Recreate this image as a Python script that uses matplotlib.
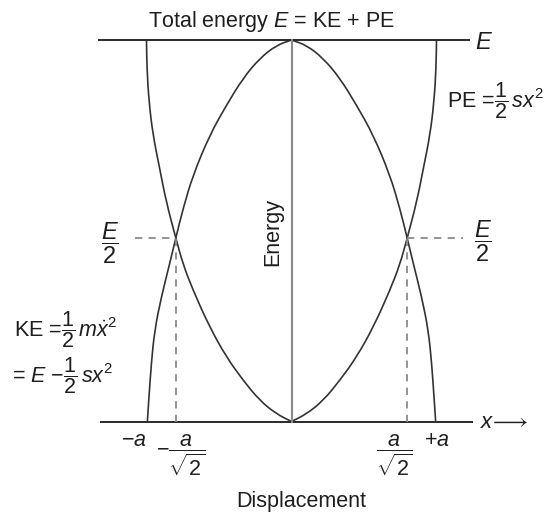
import matplotlib
matplotlib.use("Agg")
import matplotlib.pyplot as plt
from matplotlib.path import Path
from matplotlib.patches import PathPatch
import numpy as np

plt.rcParams["font.family"] = ["Liberation Sans", "DejaVu Sans"]
plt.rcParams["mathtext.fontset"] = "custom"
plt.rcParams["mathtext.rm"] = "Liberation Sans"
plt.rcParams["mathtext.it"] = "Liberation Sans:italic"
plt.rcParams["mathtext.bf"] = "Liberation Sans:bold"
plt.rcParams["mathtext.sf"] = "Liberation Sans"

# Displacement in units of the amplitude a, energy in units of the total energy E
pe_disp = [0.0, 0.105, 0.219, 0.334, 0.449, 0.564, 0.679, 0.748, 0.798,
           0.864, 0.909, 0.955, 0.983, 0.997, 1.0]
pe_energy = [0.0, 0.020, 0.055, 0.108, 0.169, 0.247, 0.344, 0.412, 0.481,
             0.576, 0.663, 0.750, 0.838, 0.926, 1.0]
ke_disp = [0.0, 0.105, 0.219, 0.334, 0.449, 0.564, 0.679, 0.747, 0.798,
           0.840, 0.898, 0.944, 0.967, 0.983, 0.994]
ke_energy = [1.0, 0.986, 0.952, 0.900, 0.829, 0.751, 0.646, 0.559, 0.481,
             0.414, 0.326, 0.239, 0.151, 0.064, 0.0]
total_energy = 1.0
half_point = (0.798, 0.481)   # where KE = PE = E/2

W, H = 555, 514
fig = plt.figure(figsize=(W / 100, H / 100), dpi=100)
ax = fig.add_axes([0, 0, 1, 1])
# axis frame: x = -a..a spans 146.5..436.5 px, energy 0..E spans 421.5..40 px
x0, ax_px = 291.5, 145.0
y0, ay_px = 421.5, 381.5
ax.set_xlim((0 - x0) / ax_px, (W - x0) / ax_px)
ax.set_ylim((y0 - H) / ay_px, y0 / ay_px)
ax.axis("off")

ink = "#2a2a2a"
curve_c = "#333333"
grey = "#8a8a8a"

# total-energy line and displacement axis
ax.plot([-1.334, 1.231], [total_energy, total_energy], color=ink, lw=1.4,
        solid_capstyle="butt")
ax.plot([-1.321, 1.252], [0, 0], color=ink, lw=1.4, solid_capstyle="butt")
# energy axis
ax.plot([0, 0], [0, total_energy], color=grey, lw=1.5)


def smooth_curve(xs, ys):
    """Quadratic-Bezier path through the midpoints of the given vertices."""
    pts = np.column_stack([xs, ys])
    verts = [pts[0], (pts[0] + pts[1]) / 2]
    codes = [Path.MOVETO, Path.LINETO]
    for i in range(1, len(pts) - 1):
        verts += [pts[i], (pts[i] + pts[i + 1]) / 2]
        codes += [Path.CURVE3, Path.CURVE3]
    verts.append(pts[-1])
    codes.append(Path.LINETO)
    return Path(verts, codes)


pe_d = np.array(pe_disp)
ke_d = np.array(ke_disp)
for sign in (1, -1):
    for d, e in ((pe_d, pe_energy), (ke_d, ke_energy)):
        ax.add_patch(PathPatch(smooth_curve(sign * d, e), fill=False,
                               edgecolor=curve_c, lw=1.2))

# dashed guides to the crossing points
hx, hy = half_point
dash = dict(color=grey, lw=1.3, ls=(0, (4, 3.5)))
ax.plot([-1.079, -hx], [hy, hy], **dash)
ax.plot([hx, 1.183], [hy, hy], **dash)
ax.plot([-hx, -hx], [0, hy], **dash)
ax.plot([hx, hx], [0, hy], **dash)

fs = 15.5
tc = "#1e1e1e"


def put(px, py, s, **kw):
    kw.setdefault("fontsize", fs)
    kw.setdefault("color", tc)
    kw.setdefault("ha", "center")
    kw.setdefault("va", "center")
    fig.text(px / W, 1 - py / H, s, **kw)


put(272, 21, r"Total energy $\mathit{E}$ = KE + PE")
put(484, 43, r"$\mathit{E}$", fontsize=17)
put(447, 101, r"PE =$\dfrac{1}{2}\,sx^2$", ha="left")
put(110, 243, r"$\dfrac{E}{2}$", fontsize=17)
put(483, 241, r"$\dfrac{E}{2}$", fontsize=17)
put(14, 330, r"KE =$\dfrac{1}{2}\,m\dot{x}^2$", ha="left")
put(12, 376, r"= $E$ $-\dfrac{1}{2}\,sx^2$", ha="left")
put(273, 232, "Energy", rotation=90)
put(134, 440, r"$-a$")
put(437, 440, r"+$a$")
put(181, 455, r"$-\dfrac{a}{\sqrt{2}}$")
put(394, 455, r"$\dfrac{a}{\sqrt{2}}$")
put(504, 422, r"$x\!\longrightarrow$", fontsize=16)
put(301, 501, "Displacement")

fig.savefig("out.png", dpi=100, facecolor="white")
